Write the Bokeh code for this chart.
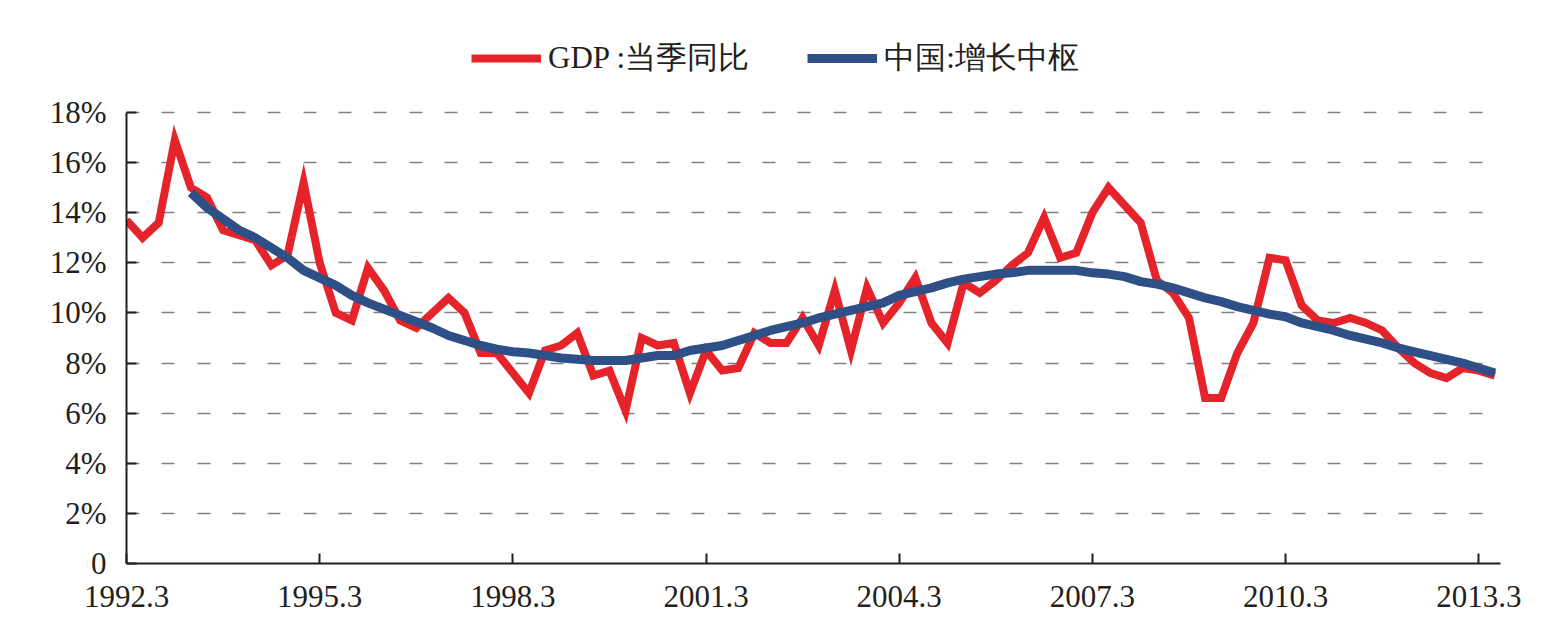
from bokeh.plotting import figure
from bokeh.models import FixedTicker, Legend, LegendItem, Range1d
from bokeh.embed import file_html
from bokeh.resources import INLINE

# Quarterly periods (year.month of quarter end), 1992.3 .. 2013.6
periods = [f"{y}.{m}" for y in range(1992, 2014) for m in (3, 6, 9, 12)][:86]

# GDP year-on-year growth for the quarter, %
gdp_yoy = [
    13.7, 13.0, 13.6, 16.9, 15.0, 14.6, 13.3, 13.1, 12.9, 11.9,
    12.3, 15.2, 12.0, 10.0, 9.7, 11.8, 10.9, 9.7, 9.4, 10.0,
    10.6, 10.0, 8.4, 8.4, 7.6, 6.8, 8.5, 8.7, 9.2, 7.5,
    7.7, 6.1, 9.0, 8.7, 8.8, 6.8, 8.5, 7.7, 7.8, 9.2,
    8.8, 8.8, 9.8, 8.7, 10.9, 8.5, 11.0, 9.6, 10.4, 11.4,
    9.6, 8.8, 11.2, 10.8, 11.3, 11.9, 12.4, 13.8, 12.2, 12.4,
    14.0, 15.0, 14.3, 13.6, 11.3, 10.8, 9.8, 6.6, 6.6, 8.4,
    9.6, 12.2, 12.1, 10.3, 9.7, 9.6, 9.8, 9.6, 9.3, 8.6,
    8.0, 7.6, 7.4, 7.8, 7.7, 7.5,
]

# Trend growth ("growth centre"), available from 1993.3 on
trend_start = 4
trend = [
    14.8, 14.2, 13.75, 13.3, 13.0, 12.6, 12.2, 11.7, 11.4, 11.1,
    10.7, 10.4, 10.15, 9.9, 9.65, 9.4, 9.1, 8.9, 8.7, 8.55,
    8.45, 8.4, 8.3, 8.2, 8.15, 8.1, 8.1, 8.1, 8.2, 8.3,
    8.3, 8.5, 8.6, 8.7, 8.9, 9.1, 9.3, 9.45, 9.6, 9.8,
    9.95, 10.1, 10.25, 10.4, 10.7, 10.85, 11.0, 11.2, 11.35, 11.45,
    11.55, 11.6, 11.7, 11.7, 11.7, 11.7, 11.6, 11.55, 11.45, 11.25,
    11.15, 11.0, 10.8, 10.6, 10.45, 10.25, 10.1, 9.95, 9.85, 9.6,
    9.45, 9.3, 9.1, 8.95, 8.8, 8.6, 8.45, 8.3, 8.15, 8.0,
    7.8, 7.6,
]

y_ticks = [0, 2, 4, 6, 8, 10, 12, 14, 16, 18]
y_tick_labels = ["0", "2%", "4%", "6%", "8%", "10%", "12%", "14%", "16%", "18%"]
x_tick_step = 12

x_all = list(range(len(periods)))
x_trend = x_all[trend_start:trend_start + len(trend)]

SERIF = "Liberation Serif"
INK = "#231f20"

# The frame reaches up into the legend area; the value axis itself stops at 18%.
p = figure(
    width=1547, height=624,
    output_backend="svg", toolbar_location=None,
    x_range=Range1d(0, 85.35), y_range=Range1d(0, 21.67),
    min_border_left=126, min_border_right=47,
    min_border_top=20, min_border_bottom=61,
)
p.outline_line_color = None
p.background_fill_color = "white"
p.border_fill_color = "white"

r_gdp = p.line(x_all, gdp_yoy, line_color="#E5232A", line_width=8, line_join="miter")
r_trend = p.line(x_trend, trend, line_color="#2E5087", line_width=9, line_join="round")

# axes
x_ticks = x_all[::x_tick_step]
p.xaxis.ticker = FixedTicker(ticks=x_ticks)
p.xaxis.major_label_overrides = {i: periods[i] for i in x_ticks}
p.yaxis.ticker = FixedTicker(ticks=y_ticks)
p.yaxis.major_label_overrides = dict(zip(y_ticks, y_tick_labels))
p.yaxis.bounds = (0, 18)

for ax in (p.xaxis[0], p.yaxis[0]):
    ax.axis_line_color = INK
    ax.axis_line_width = 2
    ax.major_tick_line_color = INK
    ax.major_tick_line_width = 2
    ax.major_tick_in = 10
    ax.major_tick_out = 0
    ax.minor_tick_line_color = None
    ax.major_label_text_font = SERIF
    ax.major_label_text_font_size = "31px"
    ax.major_label_text_color = INK
p.xaxis.major_label_standoff = 22
p.yaxis.major_label_standoff = 20

# grid
p.xgrid.grid_line_color = None
p.ygrid.ticker = FixedTicker(ticks=y_ticks[1:])
p.ygrid.grid_line_color = "#808080"
p.ygrid.grid_line_width = 1.5
p.ygrid.grid_line_dash = "13 22 13 23 13 22"

# legend above the plotted series
legend = Legend(
    items=[
        LegendItem(label="GDP :当季同比", renderers=[r_gdp]),
        LegendItem(label="中国:增长中枢", renderers=[r_trend]),
    ],
    orientation="horizontal",
    location=(345, 484),
    border_line_color=None,
    background_fill_alpha=0,
    padding=0, margin=0,
    glyph_width=70, glyph_height=36,
    label_standoff=7, spacing=58,
    label_text_font=SERIF,
    label_text_font_size="31px",
    label_text_color=INK,
)
p.add_layout(legend)

open("out.html", "w").write(file_html(p, INLINE))
